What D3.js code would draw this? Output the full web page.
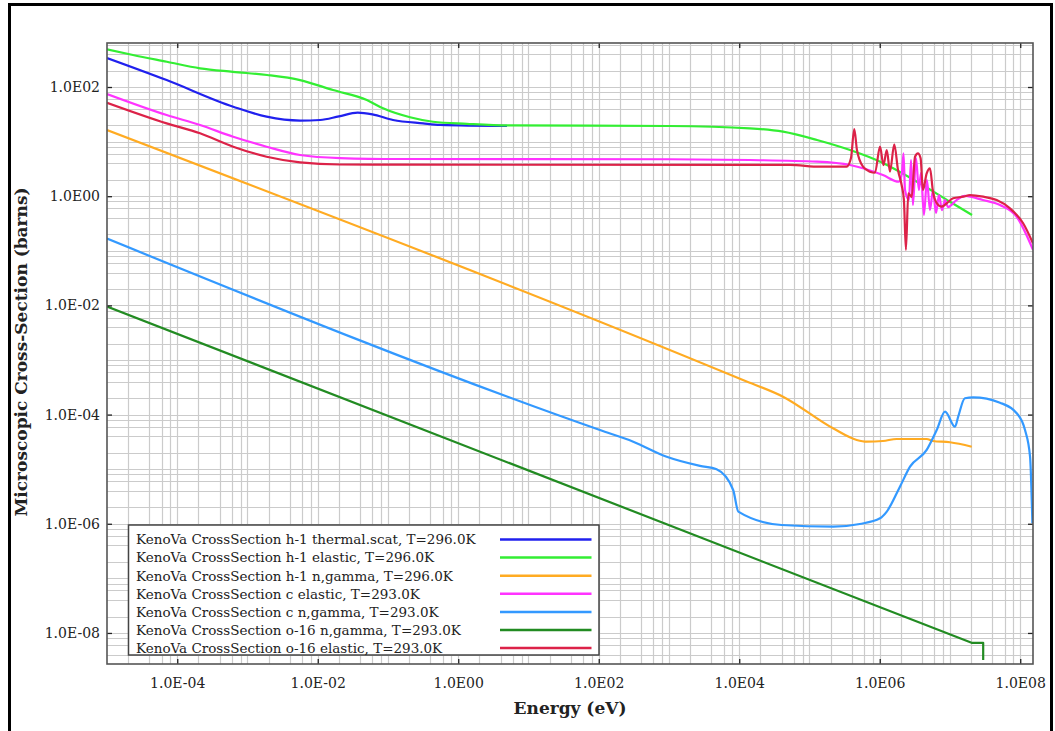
<!DOCTYPE html>
<html>
<head>
<meta charset="utf-8">
<script src="https://cdn.jsdelivr.net/npm/d3@7"></script>
<style>
  body { margin: 0; background: #fff; }
  svg { display: block; }
  text { font-family: "DejaVu Serif", serif; fill: #222; }
</style>
</head>
<body>
<div class="chart"></div>
<script>
// [energy (eV), cross-section (barns)]
const h1ThermalScat = [
  [1e-5, 340], [7.06e-5, 134], [6.26e-4, 43.6], [1.87e-3, 28.6], [5.6e-3, 24.3],
  [0.0108, 24.9], [0.02, 29], [0.037, 33.9], [0.06, 31.5], [0.118, 24.9],
  [0.315, 21.6], [0.55, 20.3], [4.94, 19.4]
];
const h1Elastic = [
  [1e-5, 490], [2.34e-5, 385], [7.1e-5, 290], [2.11e-4, 220], [6.2e-4, 190],
  [1.9e-3, 166], [5.6e-3, 134], [0.0165, 88], [0.05, 57.8], [0.085, 40.7],
  [0.206, 27.9], [0.437, 23.1], [1.33, 21.2], [5.1, 19.8], [1e3, 19.3],
  [1.42e4, 17.5], [4.2e4, 15.2], [1.28e5, 10.7], [3.78e5, 7.0], [1.11e6, 4.06],
  [3.39e6, 1.84], [1e7, 0.79], [2.06e7, 0.453]
];
const h1Ngamma = [
  [1e-5, 16.3], [1.13e4, 4.3e-4], [4.2e4, 2.13e-4], [2.16e5, 5.6e-5], [4.7e5, 3.43e-5],
  [6.5e5, 3.19e-5], [1.11e6, 3.28e-5], [1.74e6, 3.57e-5], [4.66e6, 3.57e-5],
  [5.7e6, 3.28e-5], [1e7, 3.11e-5], [2.04e7, 2.58e-5]
];
const cElastic = [
  [1e-5, 74.5], [7.06e-5, 30.7], [2.11e-4, 20.1], [6.26e-4, 12.3], [1.87e-3, 8.07],
  [5.6e-3, 5.69], [0.0207, 5.0], [0.146, 4.8], [1e3, 4.75], [1.42e4, 4.6],
  [1.28e5, 4.29], [3.78e5, 3.73], [1.11e6, 2.44], [1.87e6, 1.84], [2.07e6, 2.66],
  [2.18e6, 6.1], [2.29e6, 1.30], [2.61e6, 0.85], [2.79e6, 4.6], [2.97e6, 0.69],
  [3.28e6, 5.0], [3.61e6, 1.30], [3.86e6, 2.66], [4.26e6, 0.453], [4.7e6, 1.98],
  [5.19e6, 0.558], [5.73e6, 1.30], [6.32e6, 0.492], [6.97e6, 1.05], [7.7e6, 0.558],
  [8.5e6, 0.85], [9.36e6, 0.634], [1.24e7, 0.85], [1.63e7, 1.01], [2.95e7, 0.85],
  [5.15e7, 0.69], [8.9e7, 0.42], [1.52e8, 0.104]
];
const cNgamma = [
  [1e-5, 0.167], [104, 5.2e-5], [310, 3.19e-5], [927, 1.69e-5], [2760, 1.15e-5],
  [4760, 9.95e-6], [8200, 4.16e-6], [9700, 1.67e-6], [4.0e4, 9.5e-7], [2.18e5, 8.85e-7],
  [5.2e5, 9.9e-7], [1.01e6, 1.26e-6], [1.26e6, 1.67e-6], [1.94e6, 4.78e-6],
  [2.7e6, 1.11e-5], [4.66e6, 2.25e-5], [6.47e6, 5.2e-5], [8.5e6, 1.13e-4],
  [1.18e7, 6.0e-5], [1.31e7, 9.2e-5], [1.63e7, 1.99e-4], [2.14e7, 2.07e-4],
  [5.15e7, 1.65e-4], [8.9e7, 1.06e-4], [1.17e8, 5.2e-5], [1.38e8, 1.7e-5], [1.49e8, 1.02e-6]
];
const o16Ngamma = [
  [1e-5, 9.5e-3], [2.03e7, 6.6e-9], [2.97e7, 6.6e-9], [2.97e7, 3.2e-9]
];
const o16Elastic = [
  [1e-5, 51.5], [7.06e-5, 21.6], [2.11e-4, 14.2], [6.26e-4, 8.07], [1.87e-3, 5.29],
  [5.6e-3, 4.18], [0.0207, 3.81], [0.146, 3.78], [1.42e4, 3.75], [5.3e4, 3.75],
  [1.41e5, 3.47], [3.38e5, 3.47], [3.9e5, 5.0], [4.34e5, 17], [4.74e5, 7.0],
  [5.78e5, 3.47], [7.27e5, 2.81], [8.55e5, 2.69], [1.01e6, 8.07], [1.13e6, 3.72],
  [1.26e6, 7.0], [1.4e6, 2.81], [1.61e6, 8.93], [1.82e6, 3.02], [2.05e6, 1.60],
  [2.21e6, 0.85], [2.36e6, 0.104], [2.55e6, 1.13], [2.85e6, 0.97], [3.18e6, 5.29],
  [3.5e6, 6.1], [3.82e6, 4.95], [4.12e6, 1.30], [4.66e6, 2.62], [5.19e6, 3.24],
  [5.73e6, 1.21], [6.47e6, 0.75], [7.62e6, 0.643], [8.98e6, 0.741], [1.11e7, 0.916],
  [1.55e7, 0.98], [1.93e7, 1.05], [2.98e7, 0.98], [4.62e7, 0.85], [7.15e7, 0.60],
  [1.1e8, 0.319], [1.52e8, 0.137]
];

const seriesLabels = [
  'KenoVa CrossSection h-1 thermal.scat, T=296.0K',
  'KenoVa CrossSection h-1 elastic, T=296.0K',
  'KenoVa CrossSection h-1 n,gamma, T=296.0K',
  'KenoVa CrossSection c elastic, T=293.0K',
  'KenoVa CrossSection c n,gamma, T=293.0K',
  'KenoVa CrossSection o-16 n,gamma, T=293.0K',
  'KenoVa CrossSection o-16 elastic, T=293.0K'
];
const seriesData = [h1ThermalScat, h1Elastic, h1Ngamma, cElastic, cNgamma, o16Ngamma, o16Elastic];

const xTickExponents = [-4, -2, 0, 2, 4, 6, 8];
const yTickExponents = [-8, -6, -4, -2, 0, 2];
const gridMantissas = [1, 2, 4, 6, 8];
const xDomain = [1e-5, 1.52e8];
const yDomain = [2.7e-9, 640];

const colors = ['#2020ee', '#33ee33', '#ffab22', '#ff33ff', '#3399ff', '#228b22', '#dc2248'];

const W = 1055, H = 731;
const plot = { left: 107, top: 43, right: 1033, bottom: 664 };

const svg = d3.select('.chart')
  .append('svg')
  .attr('width', W)
  .attr('height', H);

// outer frame of the picture
svg.append('rect')
  .attr('x', 9.5).attr('y', 4.5)
  .attr('width', 1042).attr('height', 740)
  .attr('fill', 'none')
  .attr('stroke', '#000')
  .attr('stroke-width', 3);

const x = d3.scaleLog().domain(xDomain).range([plot.left, plot.right]);
const y = d3.scaleLog().domain(yDomain).range([plot.bottom, plot.top]);

function gridValues(domain) {
  const lo = Math.floor(Math.log10(domain[0]));
  const hi = Math.ceil(Math.log10(domain[1]));
  const vals = [];
  for (let e = lo; e <= hi; e++) {
    gridMantissas.forEach(m => {
      const v = m * Math.pow(10, e);
      if (v > domain[0] && v < domain[1]) vals.push(v);
    });
  }
  return vals;
}

const grid = svg.append('g').attr('class', 'grid')
  .attr('stroke', '#cbcbcb')
  .attr('stroke-width', 1.2);

grid.selectAll('line.gx')
  .data(gridValues(xDomain))
  .enter()
  .append('line')
  .attr('class', 'gx')
  .attr('x1', d => Math.round(x(d)) + 0.5)
  .attr('x2', d => Math.round(x(d)) + 0.5)
  .attr('y1', plot.top)
  .attr('y2', plot.bottom);

grid.selectAll('line.gy')
  .data(gridValues(yDomain))
  .enter()
  .append('line')
  .attr('class', 'gy')
  .attr('y1', d => Math.round(y(d)) + 0.5)
  .attr('y2', d => Math.round(y(d)) + 0.5)
  .attr('x1', plot.left)
  .attr('x2', plot.right);

const fmt = d => {
  const e = Math.round(Math.log10(d));
  return '1.0E' + (e < 0 ? '-' : '') + String(Math.abs(e)).padStart(2, '0');
};
const xTicks = xTickExponents.map(e => Math.pow(10, e));
const yTicks = yTickExponents.map(e => Math.pow(10, e));

const smooth = d3.line()
  .curve(d3.curveMonotoneX)
  .x(d => x(d[0]))
  .y(d => y(d[1]));
const straight = d3.line()
  .x(d => x(d[0]))
  .y(d => y(d[1]));

svg.append('defs').append('clipPath')
  .attr('id', 'clip')
  .append('rect')
  .attr('x', plot.left).attr('y', plot.top)
  .attr('width', plot.right - plot.left)
  .attr('height', plot.bottom - plot.top);

svg.append('g')
  .attr('clip-path', 'url(#clip)')
  .selectAll('path')
  .data(seriesData)
  .enter()
  .append('path')
  .attr('d', d => d === o16Ngamma ? straight(d) : smooth(d))
  .attr('fill', 'none')
  .attr('stroke', (d, i) => colors[i])
  .attr('stroke-width', 2.2)
  .attr('stroke-linejoin', 'round');

// axes: ticks point into the plot
function styleAxis(g) {
  g.select('.domain').remove();
  g.selectAll('.tick line').attr('stroke', '#222').attr('stroke-width', 1.3);
  g.selectAll('.tick text')
    .attr('fill', '#222')
    .style('font-family', '"DejaVu Serif", serif')
    .style('font-size', '14px');
}

svg.append('g')
  .attr('transform', `translate(0,${plot.bottom})`)
  .call(d3.axisBottom(x).tickValues(xTicks).tickFormat(fmt).tickSize(-5).tickPadding(14))
  .call(styleAxis);

svg.append('g')
  .attr('transform', `translate(0,${plot.top})`)
  .call(d3.axisTop(x).tickValues(xTicks).tickFormat('').tickSize(-5))
  .call(styleAxis);

svg.append('g')
  .attr('transform', `translate(${plot.left},0)`)
  .call(d3.axisLeft(y).tickValues(yTicks).tickFormat(fmt).tickSize(-5).tickPadding(7))
  .call(styleAxis);

svg.append('g')
  .attr('transform', `translate(${plot.right},0)`)
  .call(d3.axisRight(y).tickValues(yTicks).tickFormat('').tickSize(-5))
  .call(styleAxis);

// plot frame
svg.append('rect')
  .attr('x', plot.left).attr('y', plot.top)
  .attr('width', plot.right - plot.left)
  .attr('height', plot.bottom - plot.top)
  .attr('fill', 'none')
  .attr('stroke', '#555')
  .attr('stroke-width', 1.6);

// axis titles
svg.append('text')
  .attr('x', (plot.left + plot.right) / 2)
  .attr('y', 714)
  .attr('text-anchor', 'middle')
  .style('font-size', '17px')
  .style('font-weight', 'bold')
  .text('Energy (eV)');

svg.append('text')
  .attr('transform', 'translate(27,352) rotate(-90)')
  .attr('text-anchor', 'middle')
  .style('font-size', '17px')
  .style('font-weight', 'bold')
  .text('Microscopic Cross-Section (barns)');

// legend
const legend = svg.append('g').attr('transform', 'translate(128.5,525)');
legend.append('rect')
  .attr('width', 470.5)
  .attr('height', 130)
  .attr('fill', '#fff')
  .attr('stroke', '#444')
  .attr('stroke-width', 1.5);

const rows = legend.selectAll('g.row')
  .data(seriesLabels)
  .enter()
  .append('g')
  .attr('class', 'row')
  .attr('transform', (d, i) => `translate(0,${14.5 + i * 18.1})`);

rows.append('text')
  .attr('x', 7.5)
  .attr('dy', '0.36em')
  .style('font-size', '13.5px')
  .text(d => d);

rows.append('line')
  .attr('x1', 371.5).attr('x2', 463)
  .attr('stroke', (d, i) => colors[i])
  .attr('stroke-width', 2.5);
</script>
</body>
</html>
